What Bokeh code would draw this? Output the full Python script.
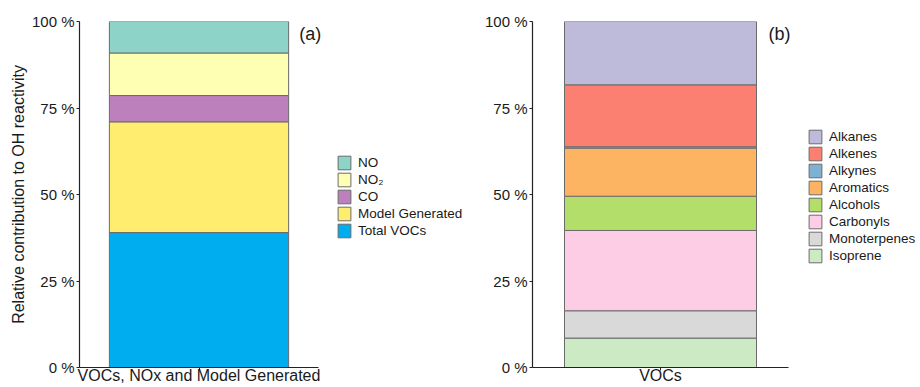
import numpy as np
from bokeh.plotting import figure
from bokeh.models import Range1d, FixedTicker, Legend, LegendItem, Label, ColumnDataSource
from bokeh.layouts import row
from bokeh.embed import file_html
from bokeh.resources import INLINE

# Panel (a): relative contribution to OH reactivity, listed bottom to top of the stack
a_category = "VOCs, NOx and Model Generated"
a_species = ["Total VOCs", "Model Generated", "CO", "NO\u2082", "NO"]
a_share = [39.0, 32.0, 7.6, 12.3, 9.1]
a_colors = ["#00AEEF", "#FFED6F", "#BC80BD", "#FFFFB3", "#8DD3C7"]

# Panel (b): breakdown of the VOC share by compound class, bottom to top
b_category = "VOCs"
b_classes = ["Isoprene", "Monoterpenes", "Carbonyls", "Alcohols",
             "Aromatics", "Alkynes", "Alkenes", "Alkanes"]
b_share = [8.5, 7.9, 23.2, 9.9, 13.9, 0.4, 17.9, 18.3]
b_colors = ["#CCEBC5", "#D9D9D9", "#FCCDE5", "#B3DE69",
            "#FDB462", "#80B1D3", "#FB8072", "#BEBADA"]

y_ticks = [0, 25, 50, 75, 100]

FONT = "Liberation Sans"
INK = "#1a1a1a"


def make_panel(category, names, shares, colors, tag, width, border_left,
               axis_px, legend_xy, y_title=None):
    height = 387
    frame_w = width - border_left
    # discrete axis: one category at x=1, padded 0.6 on either side
    x_end = 0.4 + frame_w * 1.2 / axis_px
    p = figure(width=width, height=height, output_backend="svg",
               toolbar_location=None, x_range=Range1d(0.4, x_end),
               y_range=Range1d(0, 100), min_border_left=border_left,
               min_border_right=0, min_border_top=21, min_border_bottom=20)
    p.outline_line_color = None
    p.xgrid.visible = False
    p.ygrid.visible = False
    p.background_fill_color = "white"
    p.border_fill_color = "white"

    tops = np.cumsum(shares)
    bottoms = tops - np.array(shares)
    src = ColumnDataSource(dict(x=[1] * len(shares), bottom=bottoms, top=tops,
                                color=colors, name=names))
    r = p.vbar(x="x", width=0.9, bottom="bottom", top="top", source=src,
               fill_color="color", line_color="#6b6b6b", line_width=1)

    items = [LegendItem(label=names[i], renderers=[r], index=i)
             for i in reversed(range(len(names)))]
    leg = Legend(items=items, location=legend_xy, margin=0, padding=0,
                 spacing=0, glyph_width=16, glyph_height=17, label_height=17,
                 label_standoff=6, border_line_alpha=0,
                 background_fill_alpha=0, label_text_font=FONT,
                 label_text_font_size="13.5px", label_text_color=INK)
    p.add_layout(leg, "center")

    xa = p.xaxis[0]
    xa.bounds = (0.4, 1.6)
    xa.ticker = FixedTicker(ticks=[1])
    xa.major_label_overrides = {1: category}
    xa.major_label_text_font = FONT
    xa.major_label_text_font_size = "16px"
    xa.major_label_text_color = INK
    xa.major_label_standoff = -4
    xa.major_tick_out = 3
    xa.major_tick_in = 0
    xa.minor_tick_line_color = None
    xa.axis_line_color = "#222222"
    xa.major_tick_line_color = "#222222"
    xa.axis_line_width = 1.2

    ya = p.yaxis[0]
    ya.ticker = FixedTicker(ticks=y_ticks)
    ya.major_label_overrides = {t: f"{t} %" for t in y_ticks}
    ya.major_label_text_font = FONT
    ya.major_label_text_font_size = "15px"
    ya.major_label_text_color = INK
    ya.major_label_standoff = 2
    ya.major_tick_out = 3
    ya.major_tick_in = 0
    ya.minor_tick_line_color = None
    ya.axis_line_color = "#222222"
    ya.major_tick_line_color = "#222222"
    ya.axis_line_width = 1.2
    if y_title:
        ya.axis_label = y_title
        ya.axis_label_text_font = FONT
        ya.axis_label_text_font_size = "16px"
        ya.axis_label_text_font_style = "normal"
        ya.axis_label_text_color = INK
        ya.axis_label_standoff = 2

    p.add_layout(Label(x=1.558, y=96.4, text=tag, text_align="center",
                       text_baseline="middle", text_font=FONT,
                       text_font_size="18px", text_color=INK))
    return p


pa = make_panel(a_category, a_species, a_share, a_colors, "(a)",
                width=470, border_left=79, axis_px=239, legend_xy=(257, 128),
                y_title="Relative contribution to OH reactivity")
pb = make_panel(b_category, b_classes, b_share, b_colors, "(b)",
                width=450, border_left=62, axis_px=256, legend_xy=(275, 103))

layout = row(pa, pb)
open("out.html", "w").write(file_html(layout, INLINE))
